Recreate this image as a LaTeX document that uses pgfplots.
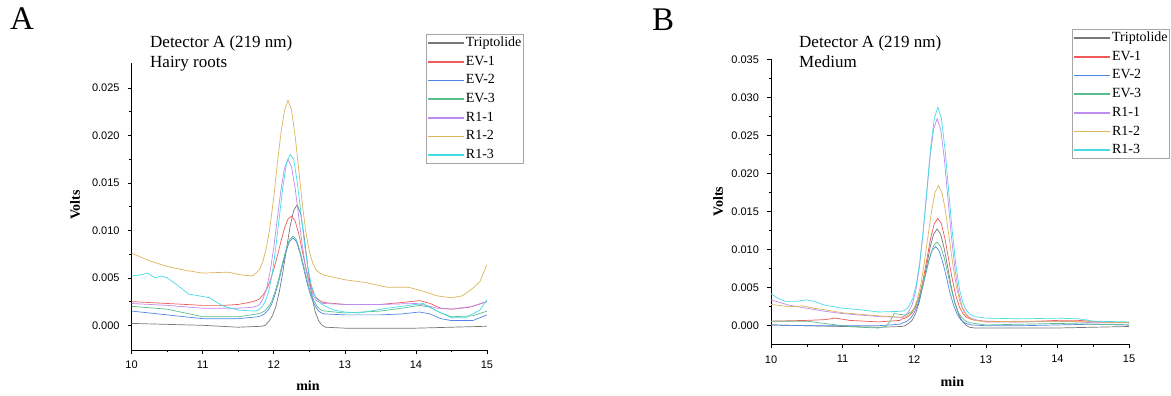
\documentclass[border=0pt]{standalone}
\usepackage{fontspec}
\setmainfont{Liberation Serif}
\setsansfont{Liberation Sans}
\usepackage{pgfplots}
\pgfplotsset{compat=1.18}
\definecolor{ctrip}{RGB}{120,120,120}
\definecolor{cev1}{RGB}{240,90,90}
\definecolor{cev2}{RGB}{80,135,230}
\definecolor{cev3}{RGB}{90,190,140}
\definecolor{cr11}{RGB}{190,140,240}
\definecolor{cr12}{RGB}{220,180,90}
\definecolor{cr13}{RGB}{70,220,230}
\pgfplotsset{
 chrom/.style={
  scale only axis, anchor=south west,
  xmin=10, xmax=15,
  axis x line=bottom, axis y line=left,
  axis line style={-, line width=0.9pt},
  xtick={10,11,12,13,14,15}, minor x tick num=1,
  minor y tick num=1,
  tick align=outside,
  major tick length=4pt, minor tick length=2.5pt,
  tick style={line width=0.6pt, black},
  ticklabel style={font=\sffamily\fontsize{11}{12}\selectfont},
  yticklabel style={xshift=-4.5pt},
  xticklabel style={yshift=-3.5pt},
  /pgf/number format/assume math mode=true,
  scaled y ticks=false,
  y tick label style={/pgf/number format/fixed, /pgf/number format/fixed zerofill, /pgf/number format/precision=3},
  every axis plot/.append style={line width=0.7pt},
  legend cell align=left,
  legend style={draw=gray!70, line width=0.9pt, font=\fontsize{14}{15}\selectfont, inner xsep=1pt, inner ysep=1pt, row sep=3.7pt, nodes={inner sep=1pt, text height=10pt, text depth=3pt}},
  legend image code/.code={\draw[##1, line width=1.6pt] (0pt,0pt) -- (36pt,0pt);},
 }
}
\begin{document}
\begin{tikzpicture}[x=1pt,y=1pt]
\useasboundingbox (0pt,0pt) rectangle (1171pt,396pt);
% ---------------- Panel A
\begin{axis}[chrom, at={(131.6pt,46pt)}, width=355.4pt, height=286.7pt,
  ymin=-0.0026, ymax=0.0276, ytick={0,0.005,0.01,0.015,0.02,0.025},
  legend style={at={(0.828,1.102)}, anchor=north west}]
\addplot[ctrip] coordinates {(10,0.0002)(10.5,0.0001)(11,0.0000)(11.5,-0.0002)(11.83,-0.0001)(11.88,0.0000)(11.93,0.0004)(11.98,0.0010)(12.03,0.0020)(12.08,0.0036)(12.13,0.0057)(12.18,0.0081)(12.23,0.0104)(12.28,0.0121)(12.33,0.0127)(12.38,0.0117)(12.43,0.0092)(12.48,0.0061)(12.53,0.0034)(12.58,0.0015)(12.63,0.0005)(12.68,0.0000)(12.73,-0.0002)(13,-0.0003)(13.5,-0.0003)(14,-0.0003)(14.5,-0.0002)(15,-0.0001)};
\addlegendentry{Triptolide}
\addplot[cev1] coordinates {(10,0.0025)(10.25,0.0024)(10.5,0.0023)(10.75,0.0022)(11,0.0021)(11.3,0.0021)(11.5,0.0022)(11.65,0.0024)(11.7,0.0025)(11.75,0.0026)(11.8,0.0028)(11.85,0.0032)(11.9,0.0038)(11.95,0.0047)(12,0.0059)(12.05,0.0073)(12.1,0.0088)(12.15,0.0102)(12.2,0.0112)(12.25,0.0115)(12.3,0.0110)(12.35,0.0097)(12.4,0.0079)(12.45,0.0061)(12.5,0.0046)(12.55,0.0035)(12.6,0.0029)(12.65,0.0026)(12.7,0.0024)(13,0.0022)(13.5,0.0022)(13.8,0.0024)(14.05,0.0026)(14.2,0.0023)(14.35,0.0018)(14.5,0.0017)(14.75,0.0019)(15,0.0025)};
\addlegendentry{EV-1}
\addplot[cev2] coordinates {(10,0.0015)(10.5,0.0011)(11,0.0007)(11.5,0.0007)(11.77,0.0009)(11.82,0.0010)(11.87,0.0012)(11.92,0.0016)(11.97,0.0022)(12.02,0.0033)(12.07,0.0046)(12.12,0.0062)(12.17,0.0077)(12.22,0.0088)(12.27,0.0092)(12.32,0.0088)(12.37,0.0076)(12.42,0.0060)(12.47,0.0044)(12.52,0.0031)(12.57,0.0022)(12.62,0.0016)(12.67,0.0013)(12.72,0.0012)(13,0.0011)(13.5,0.0011)(13.8,0.0012)(14.05,0.0014)(14.2,0.0012)(14.35,0.0007)(14.5,0.0005)(14.8,0.0005)(15,0.0011)};
\addlegendentry{EV-2}
\addplot[cev3] coordinates {(10,0.0020)(10.5,0.0017)(10.75,0.0013)(11,0.0009)(11.5,0.0009)(11.77,0.0012)(11.82,0.0013)(11.87,0.0015)(11.92,0.0019)(11.97,0.0025)(12.02,0.0036)(12.07,0.0049)(12.12,0.0065)(12.17,0.0079)(12.22,0.0090)(12.27,0.0094)(12.32,0.0090)(12.37,0.0078)(12.42,0.0063)(12.47,0.0047)(12.52,0.0034)(12.57,0.0025)(12.62,0.0019)(12.67,0.0016)(12.72,0.0015)(13,0.0013)(13.5,0.0015)(13.8,0.0018)(14.05,0.0021)(14.2,0.0019)(14.35,0.0013)(14.5,0.0009)(14.8,0.0010)(15,0.0015)};
\addlegendentry{EV-3}
\addplot[cr11] coordinates {(10,0.0023)(10.5,0.0021)(11,0.0018)(11.5,0.0018)(11.7,0.0019)(11.75,0.0020)(11.8,0.0022)(11.85,0.0028)(11.9,0.0039)(11.95,0.0057)(12,0.0082)(12.05,0.0112)(12.1,0.0142)(12.15,0.0165)(12.2,0.0175)(12.25,0.0167)(12.3,0.0145)(12.35,0.0115)(12.4,0.0085)(12.45,0.0060)(12.5,0.0043)(12.55,0.0032)(12.6,0.0026)(12.65,0.0024)(12.7,0.0023)(13,0.0022)(13.5,0.0022)(14,0.0023)(14.15,0.0021)(14.3,0.0018)(14.5,0.0017)(14.8,0.0020)(15,0.0025)};
\addlegendentry{R1-1}
\addplot[cr12] coordinates {(10,0.0076)(10.25,0.0068)(10.5,0.0062)(10.75,0.0058)(11,0.0055)(11.35,0.0056)(11.55,0.0053)(11.7,0.0052)(11.75,0.0055)(11.8,0.0059)(11.85,0.0068)(11.9,0.0083)(11.95,0.0105)(12,0.0135)(12.05,0.0170)(12.1,0.0202)(12.15,0.0226)(12.2,0.0237)(12.25,0.0227)(12.3,0.0200)(12.35,0.0165)(12.4,0.0129)(12.45,0.0099)(12.5,0.0078)(12.55,0.0065)(12.6,0.0058)(12.65,0.0055)(12.7,0.0053)(13,0.0048)(13.3,0.0045)(13.6,0.0040)(13.9,0.0040)(14.1,0.0036)(14.3,0.0031)(14.5,0.0029)(14.65,0.0031)(14.8,0.0039)(14.9,0.0046)(15,0.0064)};
\addlegendentry{R1-2}
\addplot[cr13] coordinates {(10,0.0052)(10.12,0.0053)(10.23,0.0055)(10.33,0.0050)(10.42,0.0052)(10.5,0.0050)(10.65,0.0042)(10.8,0.0033)(10.95,0.0031)(11.1,0.0029)(11.2,0.0024)(11.3,0.0020)(11.5,0.0016)(11.73,0.0015)(11.78,0.0016)(11.83,0.0019)(11.88,0.0025)(11.93,0.0036)(11.98,0.0055)(12.03,0.0083)(12.08,0.0115)(12.13,0.0147)(12.18,0.0171)(12.23,0.0180)(12.28,0.0175)(12.33,0.0151)(12.38,0.0120)(12.43,0.0087)(12.48,0.0061)(12.53,0.0042)(12.58,0.0031)(12.63,0.0025)(12.68,0.0022)(12.73,0.0020)(12.85,0.0016)(13,0.0014)(13.2,0.0013)(13.6,0.0018)(14,0.0022)(14.1,0.0023)(14.3,0.0015)(14.5,0.0008)(14.7,0.0008)(14.9,0.0016)(15,0.0027)};
\addlegendentry{R1-3}
\end{axis}
% ---------------- Panel B
\begin{axis}[chrom, at={(771pt,51.7pt)}, width=358pt, height=285pt,
  ymin=-0.00244, ymax=0.035, ytick={0,0.005,0.01,0.015,0.02,0.025,0.03,0.035},
  legend style={at={(0.841,1.106)}, anchor=north west}]
\addplot[ctrip] coordinates {(10,0.0001)(10.5,0.0000)(11,-0.0001)(11.5,-0.0002)(11.82,-0.0001)(11.87,0.0000)(11.92,0.0003)(11.97,0.0007)(12.02,0.0016)(12.07,0.0031)(12.12,0.0052)(12.17,0.0077)(12.22,0.0102)(12.27,0.0120)(12.32,0.0127)(12.37,0.0120)(12.42,0.0101)(12.47,0.0076)(12.52,0.0050)(12.57,0.0029)(12.62,0.0015)(12.67,0.0006)(12.72,0.0001)(12.77,-0.0002)(12.85,-0.0003)(13.5,-0.0003)(14,-0.0003)(14.5,-0.0002)(15,-0.0001)};
\addlegendentry{Triptolide}
\addplot[cev1] coordinates {(10,0.0006)(10.5,0.0007)(10.75,0.0008)(10.9,0.0010)(11.1,0.0007)(11.5,0.0005)(11.8,0.0007)(11.83,0.0009)(11.88,0.0010)(11.93,0.0013)(11.98,0.0018)(12.03,0.0027)(12.08,0.0042)(12.13,0.0063)(12.18,0.0089)(12.23,0.0115)(12.28,0.0134)(12.33,0.0141)(12.38,0.0134)(12.43,0.0114)(12.48,0.0088)(12.53,0.0062)(12.58,0.0040)(12.63,0.0025)(12.68,0.0016)(12.73,0.0011)(12.78,0.0009)(12.85,0.0007)(13,0.0006)(13.5,0.0005)(14,0.0007)(14.3,0.0007)(14.6,0.0005)(15,0.0004)};
\addlegendentry{EV-1}
\addplot[cev2] coordinates {(10,0.0001)(10.5,0.0000)(11,0.0000)(11.5,0.0000)(11.8,0.0002)(11.85,0.0004)(11.9,0.0006)(11.95,0.0010)(12,0.0017)(12.05,0.0028)(12.1,0.0045)(12.15,0.0064)(12.2,0.0084)(12.25,0.0099)(12.3,0.0104)(12.35,0.0098)(12.4,0.0083)(12.45,0.0064)(12.5,0.0043)(12.55,0.0027)(12.6,0.0015)(12.65,0.0008)(12.7,0.0004)(12.75,0.0002)(12.8,0.0001)(13,0.0000)(13.5,0.0000)(14,0.0001)(14.5,0.0002)(15,0.0001)};
\addlegendentry{EV-2}
\addplot[cev3] coordinates {(10,0.0006)(10.5,0.0006)(10.75,0.0003)(11,0.0000)(11.25,-0.0002)(11.5,-0.0003)(11.6,-0.0001)(11.66,0.0005)(11.72,0.0016)(11.8,0.0015)(11.87,0.0014)(11.92,0.0016)(11.97,0.0019)(12.02,0.0026)(12.07,0.0037)(12.12,0.0053)(12.17,0.0072)(12.22,0.0091)(12.27,0.0105)(12.32,0.0110)(12.37,0.0104)(12.42,0.0089)(12.47,0.0068)(12.52,0.0047)(12.57,0.0030)(12.62,0.0017)(12.67,0.0010)(12.72,0.0006)(12.77,0.0004)(12.85,0.0003)(13,0.0001)(13.5,0.0002)(14,0.0003)(14.5,0.0002)(15,0.0001)};
\addlegendentry{EV-3}
\addplot[cr11] coordinates {(10,0.0034)(10.25,0.0027)(10.5,0.0023)(10.75,0.0019)(11,0.0016)(11.5,0.0012)(11.82,0.0011)(11.87,0.0013)(11.92,0.0018)(11.97,0.0027)(12.02,0.0045)(12.07,0.0075)(12.12,0.0118)(12.17,0.0169)(12.22,0.0220)(12.27,0.0258)(12.32,0.0272)(12.37,0.0258)(12.42,0.0220)(12.47,0.0168)(12.52,0.0117)(12.57,0.0074)(12.62,0.0044)(12.67,0.0025)(12.72,0.0016)(12.77,0.0011)(12.85,0.0008)(13,0.0005)(13.5,0.0005)(14,0.0006)(14.5,0.0004)(15,0.0004)};
\addlegendentry{R1-1}
\addplot[cr12] coordinates {(10,0.0028)(10.25,0.0025)(10.45,0.0026)(10.6,0.0023)(10.75,0.0021)(11,0.0017)(11.5,0.0013)(11.84,0.0011)(11.89,0.0012)(11.94,0.0015)(11.99,0.0021)(12.04,0.0034)(12.09,0.0053)(12.14,0.0082)(12.19,0.0116)(12.24,0.0149)(12.29,0.0175)(12.34,0.0184)(12.39,0.0174)(12.44,0.0149)(12.49,0.0114)(12.54,0.0080)(12.59,0.0051)(12.64,0.0031)(12.69,0.0019)(12.74,0.0012)(12.79,0.0009)(12.85,0.0007)(13,0.0005)(13.5,0.0006)(14,0.0006)(14.5,0.0005)(15,0.0004)};
\addlegendentry{R1-2}
\addplot[cr13] coordinates {(10,0.0042)(10.1,0.0036)(10.2,0.0032)(10.35,0.0032)(10.5,0.0034)(10.6,0.0032)(10.75,0.0027)(11,0.0023)(11.25,0.0021)(11.5,0.0018)(11.83,0.0019)(11.88,0.0021)(11.93,0.0026)(11.98,0.0036)(12.03,0.0054)(12.08,0.0085)(12.13,0.0129)(12.18,0.0181)(12.23,0.0234)(12.28,0.0272)(12.33,0.0287)(12.38,0.0272)(12.43,0.0232)(12.48,0.0179)(12.53,0.0125)(12.58,0.0081)(12.63,0.0049)(12.68,0.0030)(12.73,0.0020)(12.78,0.0015)(12.85,0.0012)(13,0.0010)(13.5,0.0009)(14,0.0010)(14.3,0.0009)(14.5,0.0006)(15,0.0005)};
\addlegendentry{R1-3}
\end{axis}
% ---------------- Annotations
\node[font=\fontsize{33}{33}\selectfont, anchor=center] at (22pt,377pt) {A};
\node[font=\fontsize{33}{33}\selectfont, anchor=center] at (663pt,376.5pt) {B};
\node[anchor=base west, font=\fontsize{17}{20}\selectfont, inner sep=0pt] at (150pt,348pt) {Detector A (219 nm)};
\node[anchor=base west, font=\fontsize{17}{20}\selectfont, inner sep=0pt] at (150pt,328pt) {Hairy roots};
\node[anchor=base west, font=\fontsize{17}{20}\selectfont, inner sep=0pt] at (799pt,348.3pt) {Detector A (219 nm)};
\node[anchor=base west, font=\fontsize{17}{20}\selectfont, inner sep=0pt] at (799pt,328pt) {Medium};
\node[rotate=90, font=\bfseries\fontsize{14}{14}\selectfont] at (75pt,191pt) {Volts};
\node[rotate=90, font=\bfseries\fontsize{14}{14}\selectfont] at (718pt,194.3pt) {Volts};
\node[anchor=base, font=\bfseries\fontsize{14}{14}\selectfont, inner sep=0pt] at (308pt,5.3pt) {min};
\node[anchor=base, font=\bfseries\fontsize{14}{14}\selectfont, inner sep=0pt] at (952.4pt,9.3pt) {min};
\end{tikzpicture}
\end{document}
